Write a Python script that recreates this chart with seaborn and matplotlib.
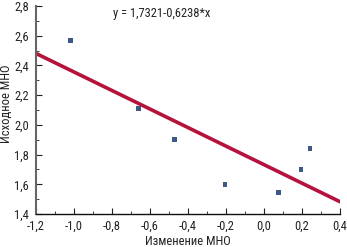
import matplotlib
matplotlib.use("Agg")
import matplotlib.pyplot as plt
from matplotlib import font_manager as fm
import seaborn as sns
import numpy as np
import pandas as pd
from matplotlib.ticker import MultipleLocator, FuncFormatter

# Data
change_mno = [-1.02, -0.66, -0.47, -0.205, 0.075, 0.195, 0.242]
initial_mno = [2.57, 2.11, 1.90, 1.60, 1.545, 1.70, 1.84]
intercept = 1.7321
slope = -0.6238
fit_x = [-1.2, 0.4]
equation = "y = 1,7321-0,6238*x"
xlabel = "Изменение МНО"
ylabel = "Исходное МНО"

sns.set_theme(style="white")

# pick a condensed sans font if available
family, stretch, fsize = "Liberation Sans", "normal", 7.6
entries = fm.fontManager.ttflist
names = {f.name for f in entries}
for cand in ["Liberation Sans Narrow", "Arial Narrow", "Roboto Condensed",
             "Noto Sans Condensed", "Open Sans Condensed"]:
    if cand in names:
        family, stretch, fsize = cand, "normal", 9
        break
else:
    for base in ["Noto Sans", "DejaVu Sans", "Open Sans"]:
        if any(f.name == base and str(f.stretch) in ("condensed", "semi-condensed")
               and f.style == "normal" and f.weight in (400, "normal", "regular")
               for f in entries):
            family, stretch, fsize = base, "condensed", 8.5
            break

plt.rcParams['font.family'] = [family, 'Liberation Sans', 'DejaVu Sans']
plt.rcParams['font.stretch'] = stretch

fig = plt.figure(figsize=(3.47, 2.47), dpi=100)
ax = fig.add_axes([36/347, 1-214/247, (340-36)/347, (214-6)/247])

df = pd.DataFrame({"x": change_mno, "y": initial_mno})
fit = pd.DataFrame({"x": fit_x, "y": [intercept + slope * v for v in fit_x]})

sns.lineplot(data=fit, x="x", y="y", ax=ax, color="#b5123c", linewidth=2.6)
sns.scatterplot(data=df, x="x", y="y", ax=ax, marker="s", s=12, color="#3d5a87",
                edgecolor="none", zorder=5)

ax.set_xlim(-1.2, 0.4)
ax.set_ylim(1.4, 2.8)
ax.xaxis.set_major_locator(MultipleLocator(0.2))
ax.xaxis.set_minor_locator(MultipleLocator(0.1))
ax.yaxis.set_major_locator(MultipleLocator(0.2))
ax.yaxis.set_minor_locator(MultipleLocator(0.1))
fmt = FuncFormatter(lambda v, p: f"{v:.1f}".replace(".", ",").replace("-0,0", "0,0"))
ax.xaxis.set_major_formatter(fmt)
ax.yaxis.set_major_formatter(fmt)

ax.tick_params(axis="both", which="major", direction="in", length=4, width=0.8,
               labelsize=fsize, colors="#222222", pad=4)
ax.tick_params(axis="y", which="major", pad=5)
ax.tick_params(axis="both", which="minor", direction="in", length=2, width=0.6,
               colors="#222222")
ax.tick_params(axis="x", bottom=True, which="both")
ax.tick_params(axis="y", left=True, which="both")

for s in ["top", "right"]:
    ax.spines[s].set_visible(False)
ax.spines["left"].set_color("#666666")
ax.spines["left"].set_linewidth(1.5)
ax.spines["bottom"].set_color("#111111")
ax.spines["bottom"].set_linewidth(1.0)

ax.set_xlabel(xlabel, fontsize=fsize, color="#222222", labelpad=2)
ax.set_ylabel(ylabel, fontsize=fsize, color="#222222")
ax.yaxis.set_label_coords(-(36 - 13) / 304, 0.53)

ax.text(113/347, 1-13/247, equation, transform=fig.transFigure, fontsize=fsize,
        color="#222222", va="center", ha="left")

fig.savefig("out.png", dpi=100)
